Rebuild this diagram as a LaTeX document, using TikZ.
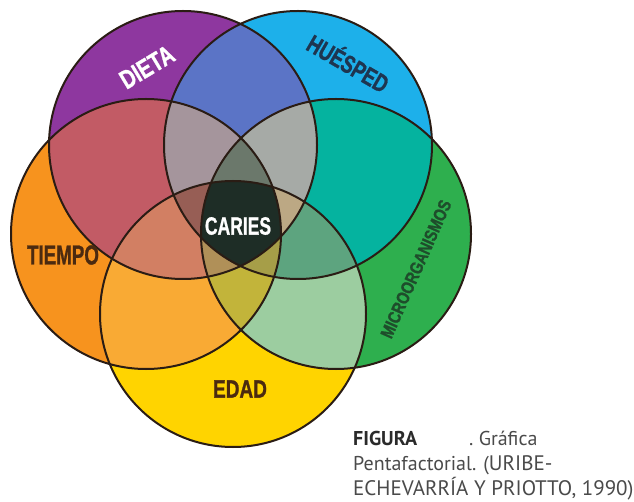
\documentclass[tikz,border=0pt]{standalone}
\usepackage{fontspec}
\setmainfont{Liberation Sans}
\newfontfamily\labfont[FakeBold=1.2]{Liberation Sans}
\newfontfamily\capfont{PT Sans}
\definecolor{cP}{HTML}{8E379F}
\definecolor{cB}{HTML}{1DB0EA}
\definecolor{cG}{HTML}{2EAF4E}
\definecolor{cY}{HTML}{FFD400}
\definecolor{cO}{HTML}{F7931E}
\definecolor{cPB}{HTML}{5B74C6}
\definecolor{cBG}{HTML}{05B39F}
\definecolor{cGY}{HTML}{9CCDA0}
\definecolor{cYO}{HTML}{F9AA34}
\definecolor{cOP}{HTML}{C25B65}
\definecolor{cPG}{HTML}{6E7E8A}
\definecolor{cPY}{HTML}{C78A60}
\definecolor{cBY}{HTML}{8CC295}
\definecolor{cBO}{HTML}{8AA290}
\definecolor{cGO}{HTML}{93A040}
\definecolor{cPBG}{HTML}{A6AAA6}
\definecolor{cBGY}{HTML}{5DA47F}
\definecolor{cGYO}{HTML}{C2B43A}
\definecolor{cPYO}{HTML}{D27F63}
\definecolor{cPBO}{HTML}{A5959C}
\definecolor{cPBY}{HTML}{9A8A8A}
\definecolor{cPGY}{HTML}{A09070}
\definecolor{cPGO}{HTML}{8A8070}
\definecolor{cBGO}{HTML}{6A9A80}
\definecolor{cBYO}{HTML}{A0A070}
\definecolor{cPBGO}{HTML}{6B786B}
\definecolor{cPBGY}{HTML}{BCA884}
\definecolor{cPBOY}{HTML}{975E55}
\definecolor{cPGYO}{HTML}{B09058}
\definecolor{cBGYO}{HTML}{A69E48}
\definecolor{cAll}{HTML}{1E2D26}
\definecolor{outl}{HTML}{2A1C14}
\definecolor{navy}{HTML}{1E3550}
\definecolor{dkgreen}{HTML}{1E4D2B}
\definecolor{dkbrown}{HTML}{4B2A10}
\definecolor{capgray}{HTML}{4A4A4A}
\definecolor{capdark}{HTML}{2A2A2A}
\newcommand\Rtwo[3]{\begin{scope}\clip #1;\fill[#3] #2;\end{scope}}
\newcommand\Rthree[4]{\begin{scope}\clip #1;\clip #2;\fill[#4] #3;\end{scope}}
\newcommand\Rfour[5]{\begin{scope}\clip #1;\clip #2;\clip #3;\fill[#5] #4;\end{scope}}
\newcommand\Rfive[6]{\begin{scope}\clip #1;\clip #2;\clip #3;\clip #4;\fill[#6] #5;\end{scope}}
\begin{document}
\begin{tikzpicture}[x=1pt,y=1pt,
  lab/.style={font=\labfont\bfseries\fontsize{25}{25}\selectfont, inner sep=0pt},
  captxt/.style={font=\capfont\fontsize{20}{20}\selectfont, text=capgray, inner sep=0pt, anchor=base west},
  ring/.style={draw=outl, line width=2pt}]
\useasboundingbox (0,0) rectangle (634,501);
\fill[white] (0,0) rectangle (634,501);
\def\pP{(183,356) circle[radius=134]}
\def\pB{(298,356) circle[radius=134]}
\def\pG{(336,267) circle[radius=135]}
\def\pY{(233,187) circle[radius=133]}
\def\pO{(146,267) circle[radius=135]}
% single circles
\fill[cP] \pP; \fill[cB] \pB; \fill[cG] \pG; \fill[cY] \pY; \fill[cO] \pO;
% pairs
\Rtwo{\pP}{\pB}{cPB}
\Rtwo{\pB}{\pG}{cBG}
\Rtwo{\pG}{\pY}{cGY}
\Rtwo{\pY}{\pO}{cYO}
\Rtwo{\pO}{\pP}{cOP}
\Rtwo{\pP}{\pG}{cPG}
\Rtwo{\pP}{\pY}{cPY}
\Rtwo{\pB}{\pY}{cBY}
\Rtwo{\pB}{\pO}{cBO}
\Rtwo{\pG}{\pO}{cGO}
% triples
\Rthree{\pP}{\pB}{\pG}{cPBG}
\Rthree{\pB}{\pG}{\pY}{cBGY}
\Rthree{\pG}{\pY}{\pO}{cGYO}
\Rthree{\pY}{\pO}{\pP}{cPYO}
\Rthree{\pO}{\pP}{\pB}{cPBO}
\Rthree{\pP}{\pB}{\pY}{cPBY}
\Rthree{\pP}{\pG}{\pY}{cPGY}
\Rthree{\pP}{\pG}{\pO}{cPGO}
\Rthree{\pB}{\pG}{\pO}{cBGO}
\Rthree{\pB}{\pY}{\pO}{cBYO}
% quads
\Rfour{\pP}{\pB}{\pG}{\pO}{cPBGO}
\Rfour{\pP}{\pB}{\pG}{\pY}{cPBGY}
\Rfour{\pP}{\pB}{\pO}{\pY}{cPBOY}
\Rfour{\pP}{\pG}{\pY}{\pO}{cPGYO}
\Rfour{\pB}{\pG}{\pY}{\pO}{cBGYO}
% all five
\Rfive{\pP}{\pB}{\pG}{\pY}{\pO}{cAll}
% outlines
\draw[ring] \pP; \draw[ring] \pB; \draw[ring] \pG; \draw[ring] \pY; \draw[ring] \pO;
% labels
\node[lab, text=white, rotate=31] (dieta) at (147,434) {\scalebox{0.8}[1.05]{DIETA}};
\node[lab, text=navy, rotate=-30] (huesped) at (349,439) {\scalebox{0.74}[1]{HUÉSPED}};
\node[lab, text=dkgreen, rotate=66] (micro) at (416,232) {\scalebox{0.58}[0.72]{MICROORGANISMOS}};
\node[lab, text=dkbrown] (tiempo) at (63,246) {\scalebox{0.75}[1.1]{TIEMPO}};
\node[lab, text=dkbrown] (edad) at (240,112) {\scalebox{0.76}[1]{EDAD}};
\node[lab, text=white] (caries) at (238,275) {\scalebox{0.7}[1]{CARIES}};
% caption
\node[captxt] (cap1) at (353,56) {{\color{capdark}\bfseries FIGURA}\hspace{52pt}. Gráfica};
\node[captxt] (cap2) at (353,31) {Pentafactorial. ({\fontsize{21}{21}\selectfont URIBE-}};
\node[captxt] (cap3) at (353,6) {{\fontsize{21}{21}\selectfont ECHEVARRÍA Y PRIOTTO, 1990)}};
\end{tikzpicture}
\end{document}
